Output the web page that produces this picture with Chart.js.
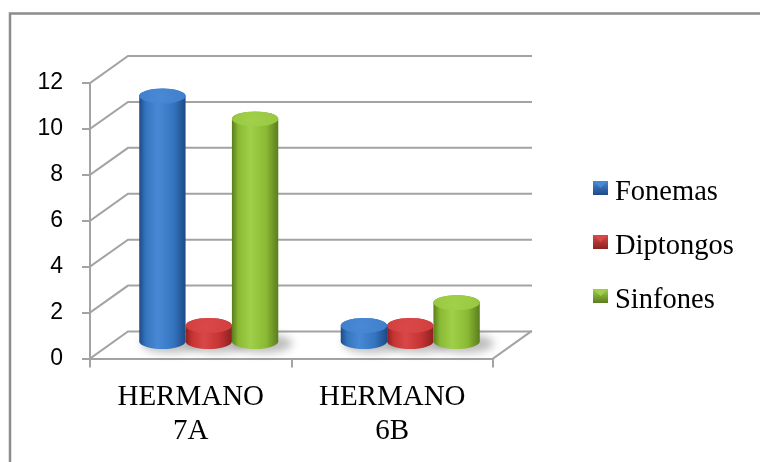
<!DOCTYPE html>
<html>
<head>
<meta charset="utf-8">
<script src="https://cdn.jsdelivr.net/npm/chart.js@4.4.0/dist/chart.umd.min.js"></script>
<style>
  html, body { margin: 0; padding: 0; background: #fff; }
  canvas { display: block; }
</style>
</head>
<body>
<canvas id="graphHermanos" width="760" height="462"></canvas>
<script>
var categorias = [['HERMANO', '7A'], ['HERMANO', '6B']];
var series = ['Fonemas', 'Diptongos', 'Sinfones'];
var fonemas = [11, 1];
var diptongos = [1, 1];
var sinfones = [10, 2];
var ejeMin = 0, ejeMax = 12, ejePaso = 2;

// colores de cada cilindro: borde oscuro, tono medio, brillo, tapa
var tonos = [
    { dark: '#1e4a86', mid: '#3475c0', light: '#4888d4', top: '#3f7fcc' },
    { dark: '#8c2121', mid: '#c53333', light: '#d94848', top: '#d23e3e' },
    { dark: '#5a7d1d', mid: '#8ab934', light: '#a0d04a', top: '#98c840' }
];

var GRIS = '#a3a3a3';
var FONDO_DX = 38, FONDO_DY = -27;   // profundidad de las paredes
var CIL_DX = 18, CIL_DY = -10;       // los cilindros van a media profundidad
var RY = 7.5;

function cilindro(ctx, cx, top, bottom, rx, c) {
    var g = ctx.createLinearGradient(cx - rx, 0, cx + rx, 0);
    g.addColorStop(0, c.dark);
    g.addColorStop(0.14, c.mid);
    g.addColorStop(0.4, c.light);
    g.addColorStop(0.74, c.mid);
    g.addColorStop(1, c.dark);
    ctx.beginPath();
    ctx.moveTo(cx - rx, top);
    ctx.lineTo(cx - rx, bottom);
    ctx.ellipse(cx, bottom, rx, RY, 0, Math.PI, 0, true);
    ctx.lineTo(cx + rx, top);
    ctx.ellipse(cx, top, rx, RY, 0, 0, Math.PI, true);
    ctx.closePath();
    ctx.fillStyle = g;
    ctx.fill();

    var t = ctx.createRadialGradient(cx - rx * 0.15, top + 1, 2, cx, top, rx);
    t.addColorStop(0, c.light);
    t.addColorStop(1, c.top);
    ctx.beginPath();
    ctx.ellipse(cx, top, rx, RY, 0, 0, Math.PI * 2);
    ctx.fillStyle = t;
    ctx.fill();
}

var escena3d = {
    id: 'escena3d',
    beforeDraw: function (chart) {
        var ctx = chart.ctx;
        ctx.save();
        ctx.fillStyle = '#fff';
        ctx.fillRect(0, 0, chart.width, chart.height);
        ctx.strokeStyle = '#8c8c8c';
        ctx.lineWidth = 2.5;
        ctx.strokeRect(10, 13.5, 800, 500);
        ctx.restore();
    },
    beforeDatasetsDraw: function (chart) {
        var ctx = chart.ctx, a = chart.chartArea, y = chart.scales.y;
        ctx.save();
        ctx.strokeStyle = GRIS;
        ctx.lineWidth = 2;
        ctx.lineCap = 'square';
        y.ticks.forEach(function (t) {
            var py = y.getPixelForValue(t.value);
            ctx.beginPath();
            ctx.moveTo(a.left, py);
            ctx.lineTo(a.left + FONDO_DX, py + FONDO_DY);
            ctx.lineTo(a.right + FONDO_DX, py + FONDO_DY);
            ctx.stroke();
        });
        // borde derecho del suelo
        ctx.beginPath();
        ctx.moveTo(a.right, a.bottom);
        ctx.lineTo(a.right + FONDO_DX, a.bottom + FONDO_DY);
        ctx.stroke();
        ctx.restore();
    },
    afterDatasetsDraw: function (chart) {
        var ctx = chart.ctx;
        ctx.save();
        // sombras bajo los cilindros
        ctx.filter = 'blur(4px)';
        chart.data.datasets.forEach(function (ds, i) {
            chart.getDatasetMeta(i).data.forEach(function (bar) {
                var cx = bar.x + CIL_DX, base = bar.base + CIL_DY - 6;
                ctx.beginPath();
                ctx.ellipse(cx + 8, base + 2, bar.width / 2 + 6, RY + 2, 0, 0, Math.PI * 2);
                ctx.fillStyle = 'rgba(0,0,0,0.26)';
                ctx.fill();
            });
        });
        ctx.filter = 'none';
        chart.data.labels.forEach(function (lab, j) {
            chart.data.datasets.forEach(function (ds, i) {
                var bar = chart.getDatasetMeta(i).data[j];
                var cx = bar.x + CIL_DX;
                cilindro(ctx, cx, bar.y + CIL_DY, bar.base + CIL_DY - 6, bar.width / 2, tonos[i]);
            });
        });

        // leyenda
        ctx.font = '28.5px "Liberation Serif"';
        ctx.textBaseline = 'alphabetic';
        chart.data.datasets.forEach(function (ds, i) {
            var top = 181 + i * 54, c = tonos[i];
            var g = ctx.createLinearGradient(0, top, 0, top + 14);
            g.addColorStop(0, c.light);
            g.addColorStop(1, c.dark);
            ctx.fillStyle = g;
            ctx.fillRect(593, top, 15, 14);
            ctx.fillStyle = c.light;
            ctx.beginPath();
            ctx.moveTo(594, top + 1);
            ctx.lineTo(607, top + 1);
            ctx.lineTo(600.5, top + 7);
            ctx.closePath();
            ctx.fill();
            ctx.fillStyle = '#000';
            ctx.fillText(ds.label, 615, top + 19);
        });
        ctx.restore();
    }
};

new Chart(document.getElementById('graphHermanos').getContext('2d'), {
    type: 'bar',
    data: {
        labels: categorias,
        datasets: [
            { label: series[0], data: fonemas },
            { label: series[1], data: diptongos },
            { label: series[2], data: sinfones }
        ].map(function (d) {
            d.backgroundColor = 'rgba(0,0,0,0)';
            d.borderWidth = 0;
            d.categoryPercentage = 0.69;
            d.barPercentage = 1;
            return d;
        })
    },
    options: {
        responsive: false,
        animation: false,
        layout: {
            padding: { left: 0, top: 83, right: 267, bottom: 3.5 }
        },
        plugins: {
            legend: { display: false },
            tooltip: { enabled: false }
        },
        scales: {
            x: {
                afterFit: function (s) { s.height = 100; },
                grid: { drawOnChartArea: false, drawTicks: true, tickLength: 9, color: GRIS, lineWidth: 2 },
                border: { display: true, color: GRIS, width: 2 },
                ticks: {
                    color: '#000',
                    padding: 12,
                    font: { family: '"Liberation Serif"', size: 29, lineHeight: 1.2 }
                }
            },
            y: {
                min: ejeMin,
                max: ejeMax,
                afterFit: function (s) { s.width = 90; },
                grid: { drawOnChartArea: false, drawTicks: true, tickLength: 8, color: GRIS, lineWidth: 2 },
                border: { display: true, color: GRIS, width: 2 },
                ticks: {
                    stepSize: ejePaso,
                    color: '#000',
                    padding: 19,
                    font: { family: '"Liberation Sans"', size: 23 }
                }
            }
        }
    },
    plugins: [escena3d]
});
</script>
</body>
</html>
